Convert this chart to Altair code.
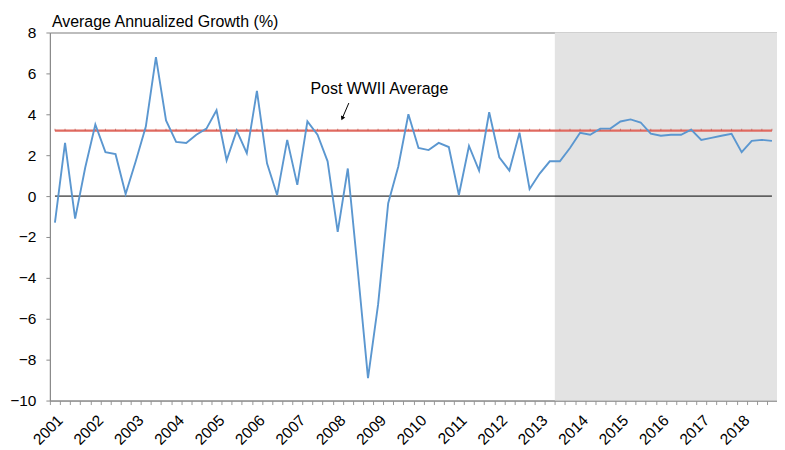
import altair as alt
import pandas as pd

# ---- data ----
years = list(range(2001, 2019))
quarters = [f"{y} Q{q}" for y in years for q in (1, 2, 3, 4)]
growth = [
    -1.3, 2.6, -1.1, 1.4,
    3.5, 2.15, 2.05, 0.1,
    1.7, 3.4, 6.8, 3.7,
    2.65, 2.6, 3.0, 3.3,
    4.2, 1.75, 3.2, 2.1,
    5.15, 1.6, 0.05, 2.75,
    0.55, 3.65, 3.0, 1.7,
    -1.75, 1.35, -3.7, -8.9,
    -5.3, -0.35, 1.45, 4.0,
    2.35, 2.25, 2.6, 2.4,
    0.05, 2.45, 1.25, 4.1,
    1.9, 1.25, 3.1, 0.35,
    1.1, 1.7, 1.7, 2.35,
    3.1, 3.0, 3.3, 3.3,
    3.65, 3.75, 3.6, 3.05,
    2.95, 3.0, 3.0, 3.25,
    2.75, 2.85, 2.95, 3.05,
    2.15, 2.7, 2.75, 2.7,
]
post_wwii_avg = 3.2
shade_start_quarter = "2013 Q3"
chart_title = "Average Annualized Growth (%)"
annotation_text = "Post WWII Average"
annotation_pos = [25.8, 4.98]          # [quarter position, value]
arrow_from = [29.6, 4.55]
arrow_to = [28.95, 3.8]
y_ticks = list(range(-10, 9, 2))

FONT = "Liberation Sans"
n = len(quarters)
pos = [i + 0.5 for i in range(n)]

df = pd.DataFrame({"quarter": quarters, "pos": pos, "growth": growth})
shade_i = quarters.index(shade_start_quarter)
shade_df = pd.DataFrame({"x": [shade_i], "x2": [n], "y": [-10], "y2": [8]})
rules_df = pd.DataFrame({"x": [pos[0], pos[0]], "x2": [pos[-1], pos[-1]],
                         "y": [0, post_wwii_avg], "kind": ["zero", "avg"]})
avg_pts = pd.DataFrame({"pos": pos, "y": [post_wwii_avg] * n})
text_df = pd.DataFrame({"x": [annotation_pos[0]], "y": [annotation_pos[1]], "t": [annotation_text]})
title_df = pd.DataFrame({"x": [0], "y": [y_ticks[-1]], "t": [chart_title]})
arrow_df = pd.DataFrame({"x": [arrow_from[0]], "y": [arrow_from[1]],
                         "x2": [arrow_to[0]], "y2": [arrow_to[1]]})
head_df = pd.DataFrame({"x": [arrow_to[0]], "y": [arrow_to[1]]})

xscale = alt.Scale(domain=[0, n], nice=False, zero=False)
yscale = alt.Scale(domain=[-10, 8], nice=False, zero=False)

# label positions: first quarter of each year (category centre)
year_label_pos = [pos[i] for i in range(0, n, 4)]
label_expr = "'' + (2001 + floor(datum.value / 4))"

tick_axis = alt.Axis(
    orient="bottom", values=list(range(n + 1)), tickSize=4, tickColor="#999999",
    domainColor="#8c8c8c", labels=False, grid=False, title=None,
)
label_axis = alt.Axis(
    orient="bottom", values=year_label_pos, ticks=False, domain=False,
    labelExpr=label_expr,
    labelAngle=315, labelAlign="right", labelBaseline="top",
    labelPadding=12, labelOverlap=False, labelFlush=False, labelBound=False,
    labelFont=FONT, labelFontSize=15.5, labelColor="black",
    grid=False, title=None,
)
y_axis = alt.Axis(
    values=y_ticks, tickSize=4, tickColor="#8c8c8c", domainColor="#8c8c8c",
    labelPadding=10, labelFont=FONT, labelFontSize=15.5, labelColor="black",
    grid=False, title=None,
)

def X(f, ax=None):
    return alt.X(f, type="quantitative", scale=xscale, axis=ax)

def Y(f):
    return alt.Y(f, type="quantitative", scale=yscale, axis=y_axis)

shade = alt.Chart(shade_df).mark_rect(color="#e3e3e3").encode(
    x=X("x", tick_axis), x2="x2", y=Y("y"), y2="y2"
)
zero_rule = alt.Chart(rules_df[rules_df.kind == "zero"]).mark_rule(
    color="black", strokeWidth=1
).encode(x=X("x"), x2="x2", y=Y("y"))
avg_rule = alt.Chart(rules_df[rules_df.kind == "avg"]).mark_rule(
    color="#e06a60", strokeWidth=2.2
).encode(x=X("x"), x2="x2", y=Y("y"))
avg_ticks = alt.Chart(avg_pts).mark_tick(
    color="#c05a52", size=2, thickness=1, orient="vertical", yOffset=-1, opacity=0.7
).encode(x=X("pos"), y=Y("y"))
line = alt.Chart(df).mark_line(color="#5b97d0", strokeWidth=1.9).encode(
    x=X("pos", label_axis), y=Y("growth")
)
label = alt.Chart(text_df).mark_text(
    align="left", baseline="alphabetic", font=FONT, fontSize=16, color="black"
).encode(x=X("x"), y=Y("y"), text="t")
title = alt.Chart(title_df).mark_text(
    align="left", baseline="alphabetic", font=FONT, fontSize=16, color="black",
    dx=2, dy=-6,
).encode(x=X("x"), y=Y("y"), text="t")
arrow = alt.Chart(arrow_df).mark_rule(color="black", strokeWidth=1).encode(
    x=X("x"), y=Y("y"), x2="x2", y2="y2"
)
head = alt.Chart(head_df).mark_point(
    shape="triangle-down", filled=True, color="black", size=22, angle=25, opacity=1
).encode(x=X("x"), y=Y("y"))

chart = alt.layer(
    shade, zero_rule, avg_rule, avg_ticks, line, label, title, arrow, head
).resolve_axis(x="independent").properties(
    width=729, height=369,
    autosize=alt.AutoSizeParams(type="none"),
    padding={"left": 42, "top": 24, "right": 0, "bottom": 46},
).configure_view(stroke="#7a7a7a", strokeWidth=1)

chart.save("out.html", embed_options={"renderer": "svg", "actions": False})
